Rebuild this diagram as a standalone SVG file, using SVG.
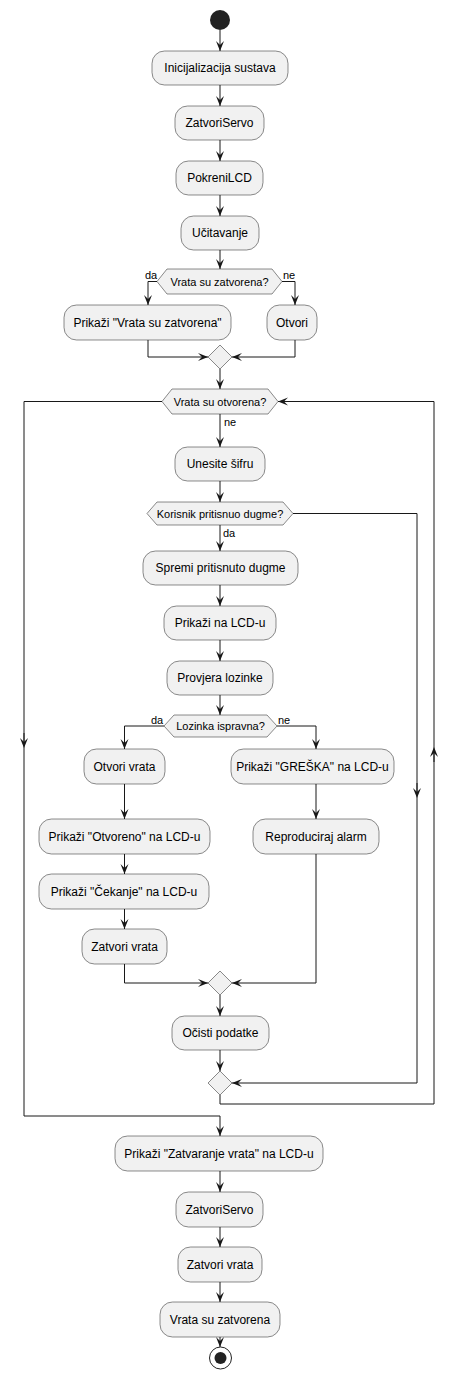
<svg xmlns="http://www.w3.org/2000/svg" width="459" height="1388" viewBox="0 0 459 1388">
<style>
.box{fill:#F1F1F1;stroke:#181818;stroke-width:0.5}
.dia{fill:#F1F1F1;stroke:#181818;stroke-width:0.5}
.t{font-family:"Liberation Sans",Arial,sans-serif;font-size:12px;fill:#000;text-anchor:middle}
.dt{font-family:"Liberation Sans",Arial,sans-serif;font-size:11px;fill:#000;text-anchor:middle}
.lb{font-family:"Liberation Sans",Arial,sans-serif;font-size:11px;fill:#000}
.ln{fill:none;stroke:#181818;stroke-width:1}
</style>
<defs>
<marker id="ah" viewBox="0 0 10 10" refX="10" refY="5" markerWidth="10" markerHeight="10" markerUnits="userSpaceOnUse" orient="auto">
<path d="M0,1 L10,5 L0,9 L4,5 Z" fill="#181818"/>
</marker>
<marker id="mid" viewBox="0 0 10 10" refX="5" refY="5" markerWidth="10" markerHeight="10" markerUnits="userSpaceOnUse" orient="auto">
<path d="M0,1 L10,5 L0,9 L4,5 Z" fill="#181818"/>
</marker>
</defs>

<g id="start"><circle cx="220" cy="20" r="10" fill="#222222"/></g>
<g id="n1"><rect class="box" x="152" y="51" width="136" height="34" rx="12.5"/><text class="t" x="220" y="72">Inicijalizacija sustava</text></g>
<g id="n2"><rect class="box" x="175" y="106" width="89" height="34" rx="12.5"/><text class="t" x="219.5" y="127">ZatvoriServo</text></g>
<g id="n3"><rect class="box" x="176" y="161" width="87" height="34" rx="12.5"/><text class="t" x="219.5" y="182">PokreniLCD</text></g>
<g id="n4"><rect class="box" x="181" y="216" width="78" height="34" rx="12.5"/><text class="t" x="220" y="237">Učitavanje</text></g>
<g id="d1"><polygon class="dia" points="157,281.5 167,269 272,269 282,281.5 272,294 167,294"/><text class="dt" x="219.5" y="285.5">Vrata su zatvorena?</text></g>
<g id="n5"><rect class="box" x="64" y="305" width="167" height="35" rx="12.5"/><text class="t" x="147.5" y="327">Prikaži "Vrata su zatvorena"</text></g>
<g id="n6"><rect class="box" x="267" y="305" width="50" height="35" rx="12.5"/><text class="t" x="292" y="327">Otvori</text></g>
<g id="m1"><polygon class="dia" points="220,345 232,357 220,369 208,357"/></g>
<g id="d2"><polygon class="dia" points="162,401.5 172,389 268,389 278,401.5 268,414 172,414"/><text class="dt" x="220" y="405.5">Vrata su otvorena?</text></g>
<g id="n7"><rect class="box" x="175" y="447" width="90" height="34" rx="12.5"/><text class="t" x="220" y="468">Unesite šifru</text></g>
<g id="d3"><polygon class="dia" points="147,513.5 157,502 283,502 293,513.5 283,525 157,525"/><text class="dt" x="220" y="517.5">Korisnik pritisnuo dugme?</text></g>
<g id="n8"><rect class="box" x="143" y="551" width="155" height="34" rx="12.5"/><text class="t" x="220.5" y="572">Spremi pritisnuto dugme</text></g>
<g id="n9"><rect class="box" x="164" y="606" width="112" height="34" rx="12.5"/><text class="t" x="220" y="627">Prikaži na LCD-u</text></g>
<g id="n10"><rect class="box" x="167" y="661" width="106" height="34" rx="12.5"/><text class="t" x="220" y="682">Provjera lozinke</text></g>
<g id="d4"><polygon class="dia" points="164,726 174,715 267,715 277,726 267,737 174,737"/><text class="dt" x="220.5" y="730">Lozinka ispravna?</text></g>
<g id="n11"><rect class="box" x="84" y="749" width="81" height="35" rx="12.5"/><text class="t" x="124.5" y="771">Otvori vrata</text></g>
<g id="n12"><rect class="box" x="231" y="749" width="163" height="35" rx="12.5"/><text class="t" x="312.5" y="771">Prikaži "GREŠKA" na LCD-u</text></g>
<g id="n13"><rect class="box" x="39" y="819" width="171" height="35" rx="12.5"/><text class="t" x="124.5" y="841">Prikaži "Otvoreno" na LCD-u</text></g>
<g id="n14"><rect class="box" x="253" y="819" width="126" height="35" rx="12.5"/><text class="t" x="316" y="841">Reproduciraj alarm</text></g>
<g id="n15"><rect class="box" x="39" y="874" width="170" height="35" rx="12.5"/><text class="t" x="124" y="896">Prikaži "Čekanje" na LCD-u</text></g>
<g id="n16"><rect class="box" x="82" y="929" width="85" height="35" rx="12.5"/><text class="t" x="124.5" y="951">Zatvori vrata</text></g>
<g id="m2"><polygon class="dia" points="220,971 232,983 220,995 208,983"/></g>
<g id="n17"><rect class="box" x="172" y="1016" width="97" height="34" rx="12.5"/><text class="t" x="220.5" y="1037">Očisti podatke</text></g>
<g id="m3"><polygon class="dia" points="220,1071 232,1083 220,1095 208,1083"/></g>
<g id="n18"><rect class="box" x="115" y="1136" width="208" height="35" rx="12.5"/><text class="t" x="219" y="1158">Prikaži "Zatvaranje vrata" na LCD-u</text></g>
<g id="n19"><rect class="box" x="176" y="1192" width="87" height="35" rx="12.5"/><text class="t" x="219.5" y="1214">ZatvoriServo</text></g>
<g id="n20"><rect class="box" x="178" y="1247" width="84" height="35" rx="12.5"/><text class="t" x="220" y="1269">Zatvori vrata</text></g>
<g id="n21"><rect class="box" x="160" y="1302" width="120" height="35" rx="12.5"/><text class="t" x="220" y="1324">Vrata su zatvorena</text></g>
<g id="end"><circle cx="220.5" cy="1358" r="11" fill="none" stroke="#222222" stroke-width="1"/><circle cx="220.5" cy="1358" r="6" fill="#222222"/></g>

<g id="connectors">
<path class="ln" d="M220,30 V51" marker-end="url(#ah)"/>
<path class="ln" d="M220,85 V106" marker-end="url(#ah)"/>
<path class="ln" d="M220,140 V161" marker-end="url(#ah)"/>
<path class="ln" d="M220,195 V216" marker-end="url(#ah)"/>
<path class="ln" d="M220,250 V269" marker-end="url(#ah)"/>
<path class="ln" d="M157,281.5 H148 V305" marker-end="url(#ah)"/>
<path class="ln" d="M282,281.5 H295 V305" marker-end="url(#ah)"/>
<path class="ln" d="M148,340 V357 H208" marker-end="url(#ah)"/>
<path class="ln" d="M295,340 V357 H232" marker-end="url(#ah)"/>
<path class="ln" d="M220,369 V389" marker-end="url(#ah)"/>
<path class="ln" d="M162,401.5 H24 V743"/>
<path class="ln" d="M24,733 V743" marker-end="url(#mid)"/>
<path class="ln" d="M24,743 V1116 H220 V1136" marker-end="url(#ah)"/>
<path class="ln" d="M220,414 V447" marker-end="url(#ah)"/>
<path class="ln" d="M220,481 V502" marker-end="url(#ah)"/>
<path class="ln" d="M293,513.5 H417 V793"/>
<path class="ln" d="M417,783 V793" marker-end="url(#mid)"/>
<path class="ln" d="M417,793 V1083 H232" marker-end="url(#ah)"/>
<path class="ln" d="M220,525 V551" marker-end="url(#ah)"/>
<path class="ln" d="M220,585 V606" marker-end="url(#ah)"/>
<path class="ln" d="M220,640 V661" marker-end="url(#ah)"/>
<path class="ln" d="M220,695 V715" marker-end="url(#ah)"/>
<path class="ln" d="M164,726 H124.5 V749" marker-end="url(#ah)"/>
<path class="ln" d="M277,726 H316 V749" marker-end="url(#ah)"/>
<path class="ln" d="M124.5,784 V819" marker-end="url(#ah)"/>
<path class="ln" d="M316,784 V819" marker-end="url(#ah)"/>
<path class="ln" d="M124.5,854 V874" marker-end="url(#ah)"/>
<path class="ln" d="M124.5,909 V929" marker-end="url(#ah)"/>
<path class="ln" d="M124.5,964 V983 H208" marker-end="url(#ah)"/>
<path class="ln" d="M316,854 V983 H232" marker-end="url(#ah)"/>
<path class="ln" d="M220,995 V1016" marker-end="url(#ah)"/>
<path class="ln" d="M220,1050 V1071" marker-end="url(#ah)"/>
<path class="ln" d="M220,1095 V1104 H434 V752"/>
<path class="ln" d="M434,762 V752" marker-end="url(#mid)"/>
<path class="ln" d="M434,752 V401.5 H278" marker-end="url(#ah)"/>
<path class="ln" d="M220,1171 V1192" marker-end="url(#ah)"/>
<path class="ln" d="M220,1227 V1247" marker-end="url(#ah)"/>
<path class="ln" d="M220,1282 V1302" marker-end="url(#ah)"/>
<path class="ln" d="M220,1337 V1347" marker-end="url(#ah)"/>
<text class="lb" x="145" y="278.5">da</text>
<text class="lb" x="283" y="278.5">ne</text>
<text class="lb" x="224" y="426">ne</text>
<text class="lb" x="223" y="537">da</text>
<text class="lb" x="151" y="723.5">da</text>
<text class="lb" x="278" y="723.5">ne</text>
</g>
</svg>
